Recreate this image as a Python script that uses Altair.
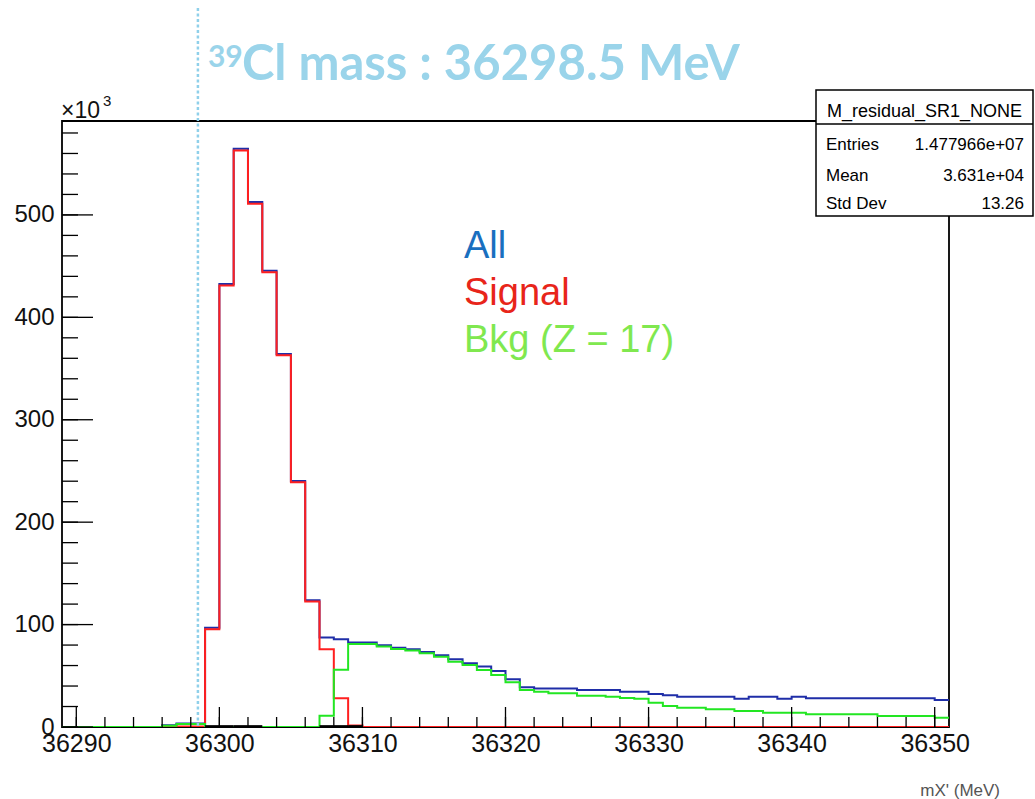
import altair as alt
import pandas as pd

# Histogram binning: 1 MeV bins, lower edges 36289 ... 36350
bin_lo = list(range(36289, 36351))
BIN_W = 1.0

# Bin contents in thousands of entries
signal = [0, 0, 0, 0, 0, 0, 0, 0.3, 0.5, 0.5,
          95.5, 431, 563, 511, 444, 363, 239, 122.5, 76, 28,
          1.5, 0, 0, 0, 0, 0, 0, 0, 0, 0,
          0, 0, 0, 0, 0, 0, 0, 0, 0, 0,
          0, 0, 0, 0, 0, 0, 0, 0, 0, 0,
          0, 0, 0, 0, 0, 0, 0, 0, 0, 0,
          0, 0]
bkg = [0, 0, 0, 0, 0, 0, 0, 1.3, 3.0, 3.0,
       0, 0, 0, 0, 0, 0, 0, 0, 11, 56,
       81, 81, 78.5, 76.2, 74.6, 72, 68.7, 63.8, 60.6, 55.7,
       50.8, 43.7, 36.2, 34.5, 32.9, 32.9, 30.6, 30.6, 29.5, 28.2,
       27.6, 23.6, 20.5, 18.9, 18.9, 17.3, 17.3, 15.6, 15.6, 14.0,
       14.0, 14.0, 12.4, 12.4, 12.4, 12.4, 12.4, 10.8, 10.8, 10.8,
       10.8, 9.1]
total = [0, 0, 0, 0, 0, 0, 0, 1.6, 3.5, 3.5,
         97, 432.5, 564.5, 512.5, 445.5, 364.2, 240.2, 123.8, 87.5, 85.7,
         82.6, 82.4, 79.8, 77.5, 75.9, 73.3, 70.0, 66.2, 62.3, 59.0,
         54.7, 46.6, 38.8, 37.5, 37.5, 37.5, 36.2, 36.2, 36.2, 34.5,
         34.5, 32.3, 31.0, 29.6, 29.6, 29.6, 29.6, 27.7, 29.6, 29.6,
         27.7, 29.6, 28.0, 28.0, 28.0, 28.0, 28.0, 28.0, 28.0, 28.0,
         28.0, 26.4]
# Other (near-empty) contribution, drawn in black
other = [0, 0, 0, 0, 0, 0, 0, 0, 0, 0,
         0.6, 0.6, 0.6, 0.6, 0, 0, 0, 0, 0.6, 0.6,
         0.6, 0, 0, 0, 0, 0, 0, 0, 0, 0,
         0, 0, 0, 0, 0, 0, 0, 0, 0, 0,
         0, 0, 0, 0, 0, 0, 0, 0, 0, 0,
         0, 0, 0, 0, 0, 0, 0, 0, 0, 0,
         0, 0]

mass_cl39 = 36298.5

x_major = [36290, 36300, 36310, 36320, 36330, 36340, 36350]
x_minor = list(range(36290, 36351, 2))
y_major = [0, 100, 200, 300, 400, 500]
y_minor = list(range(0, 581, 20))

stats_title = "M_residual_SR1_NONE"
stats_rows = ["Entries", "Mean", "Std Dev"]
stats_vals = ["1.477966e+07", "3.631e+04", "13.26"]
legend_labels = ["All", "Signal", "Bkg (Z = 17)"]
legend_colors = ["#1a6fbf", "#e8251a", "#80e84f"]

W, H = 887, 606
X_DOMAIN = [36289, 36351]
Y_DOMAIN = [0, 591.7]
FONT = "Liberation Sans"

xs = alt.Scale(domain=X_DOMAIN, nice=False, zero=False)
ys = alt.Scale(domain=Y_DOMAIN, nice=False, zero=True)
x_axis = alt.Axis(values=x_major, format="d", labelFontSize=25, labelFont=FONT,
                  labelColor="#111", ticks=False, domain=False, grid=False,
                  labelPadding=4, labelFlush=False, title=None)
y_axis = alt.Axis(values=y_major, format="d", labelFontSize=24, labelFont=FONT,
                  labelColor="#111", ticks=False, domain=False, grid=False,
                  labelPadding=8, labelFlush=False, title=None)


def X(field):
    return alt.X(field, scale=xs, axis=x_axis)


def Y(field):
    return alt.Y(field, scale=ys, axis=y_axis)


def steps(values):
    pts = [{"x": lo, "y": v} for lo, v in zip(bin_lo, values)]
    pts.append({"x": bin_lo[-1] + BIN_W, "y": values[-1]})
    return pd.DataFrame(pts)


def hist_layer(values, color, width=2.0):
    return alt.Chart(steps(values)).mark_line(
        interpolate="step-after", color=color, strokeWidth=width, clip=True
    ).encode(x=X("x:Q"), y=Y("y:Q"))


def label(text, px, py, **style):
    """Text placed in pixel coordinates relative to the plot area."""
    return alt.Chart(pd.DataFrame({"t": [text]})).mark_text(
        baseline="alphabetic", **style).encode(
        text="t:N", x=alt.value(px), y=alt.value(py))


all_h = hist_layer(total, "#1f2ea8")
sig_h = hist_layer(signal, "#ff1f1f")
bkg_h = hist_layer(bkg, "#22e622")

other_df = pd.DataFrame([{"lo": lo, "hi": lo + BIN_W, "v": v}
                         for lo, v in zip(bin_lo, other) if v > 0])
other_h = alt.Chart(other_df).mark_rule(color="black", strokeWidth=2.5).encode(
    x=X("lo:Q"), x2="hi:Q", y=Y("v:Q"))

# Tick marks drawn inward from the frame
xmin_t = alt.Chart(pd.DataFrame({"v": x_minor})).mark_rule(
    color="black", strokeWidth=1.3).encode(
    x=X("v:Q"), y=alt.value(H), y2=alt.value(H - 10))
xmaj_t = alt.Chart(pd.DataFrame({"v": x_major})).mark_rule(
    color="black", strokeWidth=1.3).encode(
    x=X("v:Q"), y=alt.value(H), y2=alt.value(H - 20))
ymin_t = alt.Chart(pd.DataFrame({"v": y_minor})).mark_rule(
    color="black", strokeWidth=1.3).encode(
    y=Y("v:Q"), x=alt.value(0), x2=alt.value(16))
ymaj_t = alt.Chart(pd.DataFrame({"v": y_major})).mark_rule(
    color="black", strokeWidth=1.3).encode(
    y=Y("v:Q"), x=alt.value(0), x2=alt.value(31))

# Reference mass line and its label
mass_df = pd.DataFrame({"m": [mass_cl39]})
mass_line = alt.Chart(mass_df).mark_rule(
    color="#8fd0ea", strokeWidth=2.5, strokeDash=[3, 2.5], clip=False).encode(
    x=X("m:Q"), y=alt.value(-113), y2=alt.value(H))
mass_sup = alt.Chart(mass_df).mark_text(
    text="39", font="Lato", fontWeight="bold", fontSize=30, color="#9ad4ea",
    align="left", baseline="alphabetic", dx=10).encode(
    x=X("m:Q"), y=alt.value(-54))
mass_txt = alt.Chart(mass_df).mark_text(
    text="Cl mass : 36298.5 MeV", font="Lato", fontWeight="bold", fontSize=49,
    color="#9ad4ea", align="left", baseline="alphabetic", dx=44).encode(
    x=X("m:Q"), y=alt.value(-41))

# Axis exponent and axis title
exp_base = label("\u00d710", -1, -3, font=FONT, fontSize=23, color="#111", align="left")
exp_pow = label("3", 41, -15, font=FONT, fontSize=15, color="#111", align="left")
xtitle = label("mX' (MeV)", 938, 675, font=FONT, fontSize=17, color="#555",
               align="right")

# Legend text
legend_rows = [label(t, 402, py, font=FONT, fontSize=38, color=c, align="left")
               for t, c, py in zip(legend_labels, legend_colors, [137, 184, 231])]

# Statistics box
BX0, BX1, BY0, BY1 = 754, 971, -31, 95
box = alt.Chart(pd.DataFrame({"k": [0]})).mark_rect(
    fill="white", stroke="black", strokeWidth=1.5).encode(
    x=alt.value(BX0), x2=alt.value(BX1), y=alt.value(BY0), y2=alt.value(BY1))
box_sep = alt.Chart(pd.DataFrame({"k": [0]})).mark_rule(
    color="black", strokeWidth=1.3).encode(
    x=alt.value(BX0), x2=alt.value(BX1), y=alt.value(3))
box_title = label(stats_title, (BX0 + BX1) / 2, -4, font=FONT, fontSize=18,
                  color="black", align="center")
stats_text = []
for name, val, py in zip(stats_rows, stats_vals, [29, 60, 88]):
    stats_text.append(label(name, BX0 + 10, py, font=FONT, fontSize=17,
                            color="black", align="left"))
    stats_text.append(label(val, BX1 - 9, py, font=FONT, fontSize=17,
                            color="black", align="right"))

chart = alt.layer(
    all_h, sig_h, bkg_h, other_h, mass_line,
    xmin_t, xmaj_t, ymin_t, ymaj_t,
    mass_sup, mass_txt, exp_base, exp_pow, xtitle, *legend_rows,
    box, box_sep, box_title, *stats_text,
).properties(
    width=W, height=H,
    padding={"left": 62, "top": 121, "right": 86, "bottom": 72},
    autosize=alt.AutoSizeParams(type="none"),
    background="white",
).configure_view(stroke="black", strokeWidth=1.8)

chart.save("out.html", embed_options={"renderer": "svg", "actions": False})
